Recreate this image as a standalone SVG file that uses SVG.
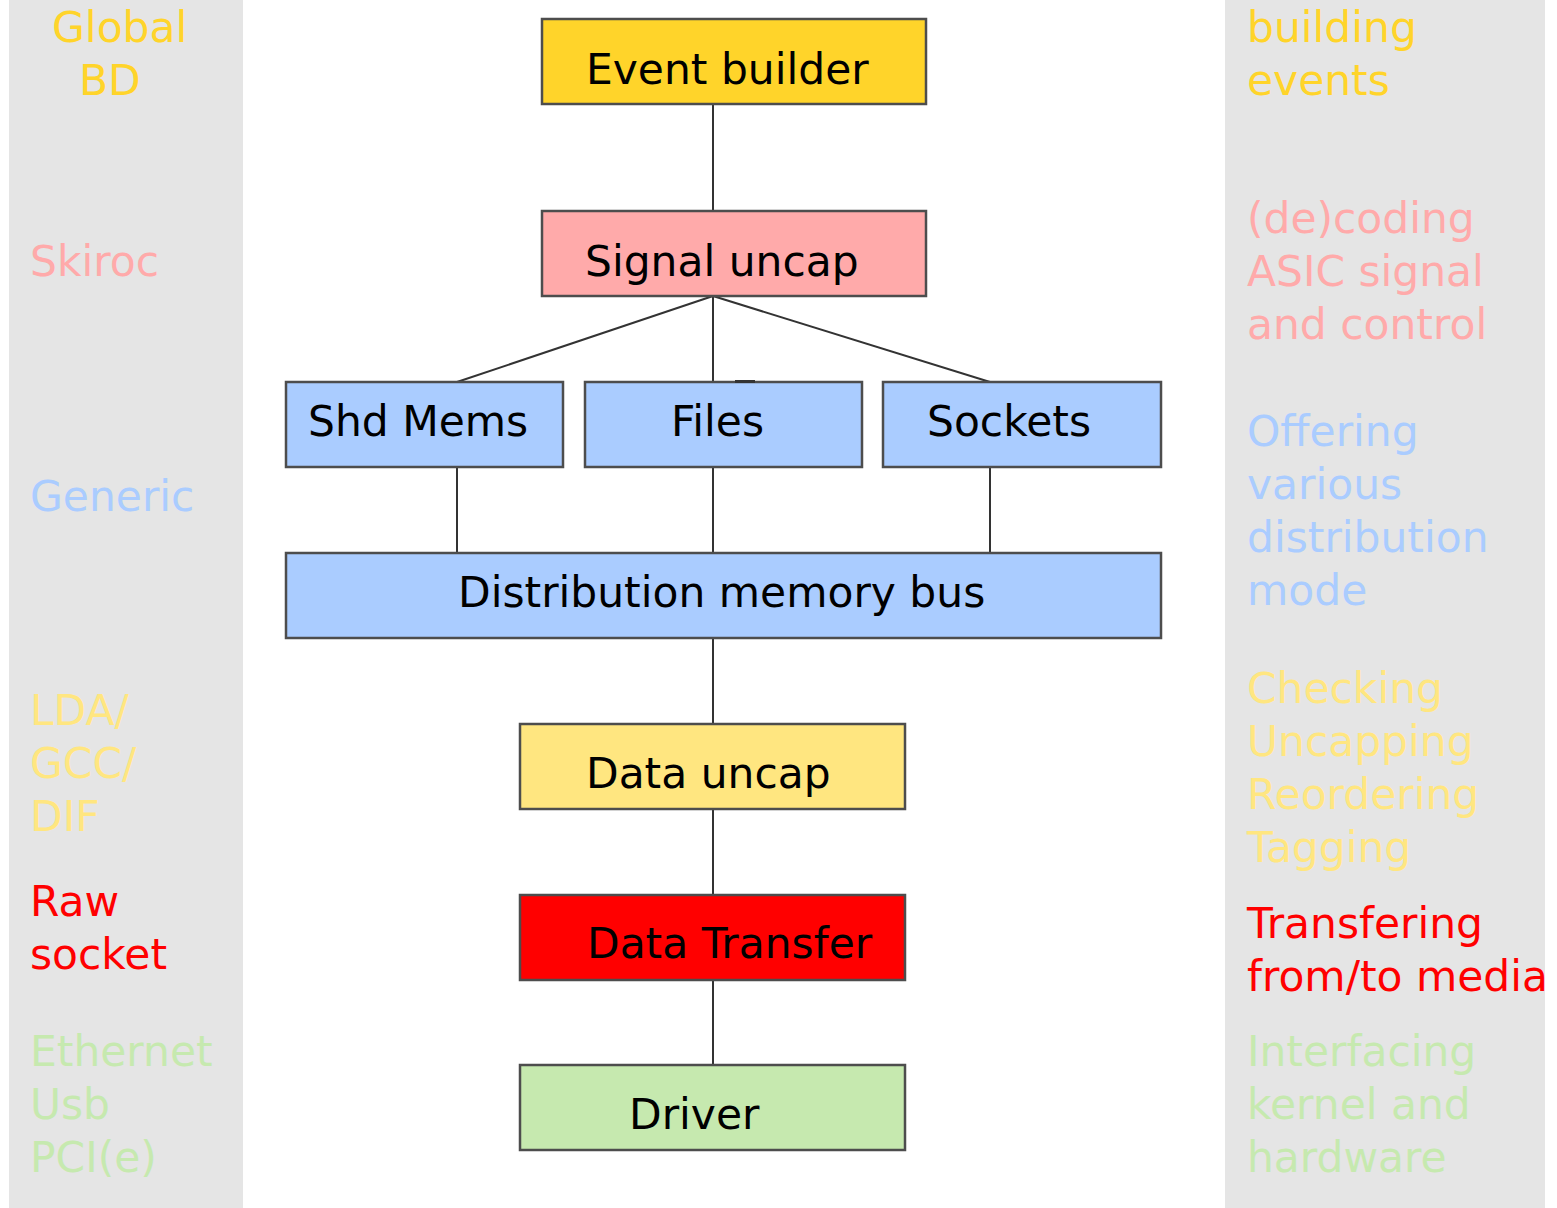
<svg xmlns="http://www.w3.org/2000/svg" width="1557" height="1208" viewBox="0 0 1557 1208">
<style>
text{font-family:"DejaVu Sans","Liberation Sans",sans-serif;font-size:42.4px}
.box{stroke:#4d4d4d;stroke-width:2.5}
.lbl{fill:#000}
.con{stroke:#333;stroke-width:2;fill:none}
</style>
<defs>
<clipPath id="rc"><rect x="1225" y="0" width="320" height="1208"/></clipPath>
</defs>
<rect width="1557" height="1208" fill="#fff"/>
<g id="left-column">
<rect x="9" y="0" width="234" height="1208" fill="#e5e5e5"/>
<text x="52" y="42" fill="#ffd42a">Global</text>
<text x="79" y="95" fill="#ffd42a">BD</text>
<text x="30" y="276" fill="#ffaaaa">Skiroc</text>
<text x="30" y="511" fill="#aaccff">Generic</text>
<text x="30" y="725" fill="#ffe680">LDA/</text>
<text x="30" y="778" fill="#ffe680">GCC/</text>
<text x="30" y="831" fill="#ffe680">DIF</text>
<text x="30" y="916" fill="#ff0000">Raw</text>
<text x="30" y="969" fill="#ff0000">socket</text>
<text x="30" y="1066" fill="#c6e9af">Ethernet</text>
<text x="30" y="1119" fill="#c6e9af">Usb</text>
<text x="30" y="1172" fill="#c6e9af">PCI(e)</text>
</g>
<g id="right-column">
<rect x="1225" y="0" width="320" height="1208" fill="#e5e5e5"/>
<g clip-path="url(#rc)">
<text x="1247" y="42" fill="#ffd42a">building</text>
<text x="1247" y="95" fill="#ffd42a">events</text>
<text x="1247" y="233" fill="#ffaaaa">(de)coding</text>
<text x="1247" y="286" fill="#ffaaaa">ASIC signal</text>
<text x="1247" y="339" fill="#ffaaaa">and control</text>
<text x="1247" y="446" fill="#aaccff">Offering</text>
<text x="1247" y="499" fill="#aaccff">various</text>
<text x="1247" y="552" fill="#aaccff">distribution</text>
<text x="1247" y="605" fill="#aaccff">mode</text>
<text x="1247" y="703" fill="#ffe680">Checking</text>
<text x="1247" y="756" fill="#ffe680">Uncapping</text>
<text x="1247" y="809" fill="#ffe680">Reordering</text>
<text x="1247" y="862" fill="#ffe680">Tagging</text>
<text x="1247" y="938" fill="#ff0000">Transfering</text>
<text x="1247" y="991" fill="#ff0000">from/to media</text>
<text x="1247" y="1066" fill="#c6e9af">Interfacing</text>
<text x="1247" y="1119" fill="#c6e9af">kernel and</text>
<text x="1247" y="1172" fill="#c6e9af">hardware</text>
</g>
</g>
<g id="connectors">
<line class="con" x1="713" y1="104" x2="713" y2="211"/>
<line class="con" x1="713" y1="296" x2="457" y2="382"/>
<line class="con" x1="713" y1="296" x2="713" y2="382"/>
<line class="con" x1="713" y1="296" x2="990" y2="382"/>
<line class="con" x1="457" y1="467" x2="457" y2="553"/>
<line class="con" x1="713" y1="467" x2="713" y2="553"/>
<line class="con" x1="990" y1="467" x2="990" y2="553"/>
<line class="con" x1="713" y1="638" x2="713" y2="724"/>
<line class="con" x1="713" y1="809" x2="713" y2="895"/>
<line class="con" x1="713" y1="980" x2="713" y2="1065"/>
</g>
<g id="event-builder">
<rect class="box" x="542" y="19" width="384" height="85" fill="#ffd42a"/>
<text class="lbl" x="586" y="84">Event builder</text>
</g>
<g id="signal-uncap">
<rect class="box" x="542" y="211" width="384" height="85" fill="#ffaaaa"/>
<text class="lbl" x="585" y="276">Signal uncap</text>
</g>
<g id="shd-mems">
<rect class="box" x="286" y="382" width="277" height="85" fill="#aaccff"/>
<text class="lbl" x="308" y="436">Shd Mems</text>
</g>
<g id="files">
<rect class="box" x="585" y="382" width="277" height="85" fill="#aaccff"/>
<line x1="735" y1="381.5" x2="755" y2="381.5" stroke="#333" stroke-width="3"/>
<text class="lbl" x="671" y="436">Files</text>
</g>
<g id="sockets">
<rect class="box" x="883" y="382" width="278" height="85" fill="#aaccff"/>
<text class="lbl" x="927" y="436">Sockets</text>
</g>
<g id="distribution-bus">
<rect class="box" x="286" y="553" width="875" height="85" fill="#aaccff"/>
<text class="lbl" x="458" y="607">Distribution memory bus</text>
</g>
<g id="data-uncap">
<rect class="box" x="520" y="724" width="385" height="85" fill="#ffe680"/>
<text class="lbl" x="586" y="788">Data uncap</text>
</g>
<g id="data-transfer">
<rect class="box" x="520" y="895" width="385" height="85" fill="#ff0000"/>
<text class="lbl" x="587" y="958">Data Transfer</text>
</g>
<g id="driver">
<rect class="box" x="520" y="1065" width="385" height="85" fill="#c6e9af"/>
<text class="lbl" x="629" y="1129">Driver</text>
</g>
</svg>
